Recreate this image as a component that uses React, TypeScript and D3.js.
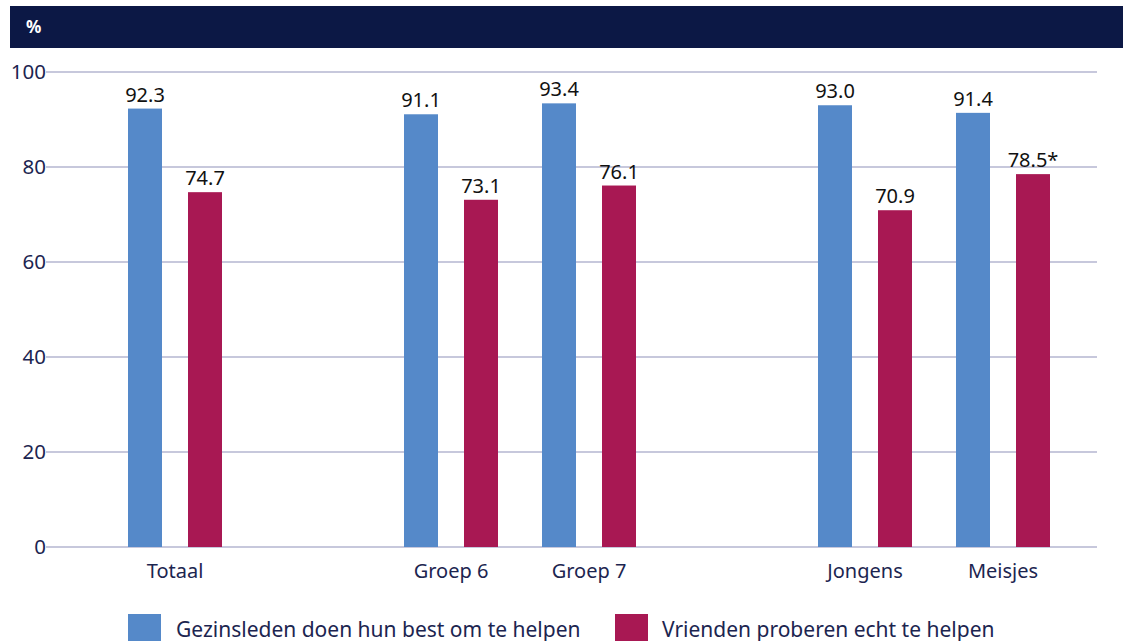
import React from "react";
import * as d3 from "d3";

const categories = ["Totaal", "gap1", "Groep 6", "Groep 7", "gap2", "Jongens", "Meisjes"];
const familyValues = [92.3, null, 91.1, 93.4, null, 93.0, 91.4];
const friendValues = [74.7, null, 73.1, 76.1, null, 70.9, 78.5];
const friendMarks = ["", "", "", "", "", "", "*"];
const yTicks = [0, 20, 40, 60, 80, 100];
const seriesNames = ["Gezinsleden doen hun best om te helpen", "Vrienden proberen echt te helpen"];

const BLUE = "#5589c9";
const RED = "#a81853";
const NAVY = "#0c1845";
const TEXT = "#1c2550";
const FONT = "'Noto Sans', 'Open Sans', sans-serif";

const W = 1123;
const H = 641;

const App = () => {
  const x = d3.scaleBand<string>().domain(categories).range([106, 1072]).padding(0);
  const y = d3.scaleLinear().domain([0, 100]).range([547, 72]);
  const barW = 34;
  const off = 30;

  const series = [
    { values: familyValues, color: BLUE, dx: -off, marks: null as string[] | null },
    { values: friendValues, color: RED, dx: off, marks: friendMarks },
  ];

  return (
    <svg width={W} height={H} style={{ position: "absolute", left: 0, top: 0 }} fontFamily={FONT}>
      <rect x={10} y={6} width={W - 10} height={42} fill={NAVY} />
      <text x={26} y={33} fill="white" fontWeight="bold" fontSize={17}>%</text>

      {yTicks.map(t => (
        <g key={t}>
          <line x1={46} x2={1097} y1={y(t)} y2={y(t)} stroke="#b4b6d1" strokeWidth={1.5} />
          <text x={46} y={y(t) + 7} textAnchor="end" fontSize={20.5} fill={TEXT}>{t}</text>
        </g>
      ))}

      {series.map((s, si) =>
        categories.map((c, i) => {
          const v = s.values[i];
          if (v == null) return null;
          const cx = (x(c) as number) + x.bandwidth() / 2 + s.dx;
          return (
            <g key={si + c}>
              <rect x={cx - barW / 2} y={y(v)} width={barW} height={y(0) - y(v)} fill={s.color} />
              <text x={cx} y={y(v) - 7} textAnchor="middle" fontSize={20} fill="#111">
                {v.toFixed(1)}{s.marks ? s.marks[i] : ""}
              </text>
            </g>
          );
        })
      )}

      {categories.map(c =>
        c.startsWith("gap") ? null : (
          <text key={c} x={(x(c) as number) + x.bandwidth() / 2} y={578} textAnchor="middle" fontSize={20} fill={TEXT}>
            {c}
          </text>
        )
      )}

      <rect x={128} y={614} width={33} height={27} fill={BLUE} />
      <text x={176} y={637} fontSize={21} fill={TEXT}>{seriesNames[0]}</text>
      <rect x={615} y={614} width={33} height={27} fill={RED} />
      <text x={662} y={637} fontSize={21} fill={TEXT}>{seriesNames[1]}</text>
    </svg>
  );
};

export default App;
